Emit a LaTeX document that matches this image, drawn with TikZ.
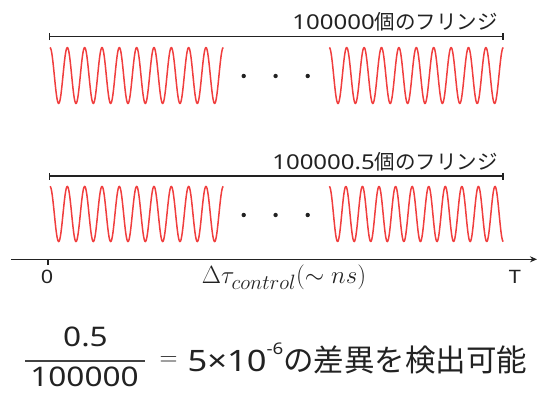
\documentclass[tikz,border=0pt]{standalone}
\usepackage{fontspec}
\setmainfont{Noto Sans CJK JP}
\newfontfamily\lat[FakeStretch=1.17]{Noto Sans}
\usetikzlibrary{arrows.meta}
\definecolor{wavered}{RGB}{240,62,62}
\definecolor{ink}{RGB}{34,34,34}
\begin{document}
\begin{tikzpicture}[x=1pt,y=-1pt,
  wave/.style={draw=wavered, line width=1.5pt, line join=round},
  bracket/.style={draw=ink, line width=1.2pt, {Bar[width=7pt]}-{Bar[width=7pt]}},
  dotmark/.style={circle, fill=ink, inner sep=0pt, minimum size=4.4pt},
  lbl/.style={font=\fontsize{20.5}{20.5}\selectfont, text=ink, inner sep=0pt},
  axlbl/.style={font=\fontsize{18.5}{18.5}\selectfont\lat, text=ink, inner sep=0pt},
  frac/.style={font=\fontsize{27}{27}\selectfont\lat, text=ink, inner sep=0pt},
  bigtxt/.style={font=\fontsize{30.5}{30.5}\selectfont, text=ink, inner sep=0pt}]
\useasboundingbox (0,0) rectangle (537,394);
% ---- top group
\coordinate (b1L) at (49,36.5);
\coordinate (b1R) at (503.5,36.5);
\draw[bracket] (b1L) -- (b1R);
\node[lbl, anchor=base east] (lab1) at (498,29.5) {{\lat 100000}個のフリンジ};
\draw[wave] plot[domain=0:10, samples=301] ({50+17.33*\x},{75.5-28*cos(360*\x)});
\draw[wave] plot[domain=0:10, samples=301] ({329.3+17.4*\x},{75.5-28*cos(360*\x)});
\node[dotmark] (d1) at (243.7,76) {};
\node[dotmark] (d2) at (275.6,76) {};
\node[dotmark] (d3) at (307.7,76) {};
% ---- second group
\coordinate (b2L) at (49,176);
\coordinate (b2R) at (503.5,176);
\draw[bracket] (b2L) -- (b2R);
\node[lbl, anchor=base east] (lab2) at (498,169.5) {{\lat 100000.5}個のフリンジ};
\draw[wave] plot[domain=0:10, samples=301] ({50+17.33*\x},{214-27.6*cos(360*\x)});
\draw[wave] plot[domain=0:10.5, samples=301] ({329.3+16.57*\x},{214-27.6*cos(360*\x)});
\node[dotmark] (d4) at (243.7,215) {};
\node[dotmark] (d5) at (275.6,215) {};
\node[dotmark] (d6) at (307.7,215) {};
% ---- axis
\coordinate (axL) at (11,259.3);
\coordinate (axR) at (537,259.3);
\draw[draw=ink, line width=1.2pt, -{Stealth[length=7pt,width=6pt]}] (axL) -- (axR);
\coordinate (tk0) at (48,259.3);
\coordinate (tk1) at (48,264.5);
\draw[draw=ink, line width=1.1pt] (tk0) -- (tk1);
\node[axlbl] (zero) at (47,277) {0};
\node[axlbl] (tee) at (515,277) {T};
\node[inner sep=0pt, text=ink, font=\fontsize{29.5}{29.5}\selectfont] (xlab) at (284,277) {$\Delta\tau_{control}(\sim ns)$};
% ---- formula
\node[frac, anchor=base] (num) at (85.5,346.2) {0.5};
\node[frac, anchor=base] (den) at (84.5,386.5) {100000};
\coordinate (fl) at (25,361);
\coordinate (fr) at (145,361);
\draw[draw=ink!85, line width=1.3pt] (fl) -- (fr);
\node[inner sep=0pt, text=ink, font=\fontsize{28}{28}\selectfont] (eq) at (168.5,361) {$=$};
\node[bigtxt, anchor=base west] (res) at (187.5,371.5) {{\lat\fontsize{29.5}{29.5}\selectfont 5×10\raisebox{17.5pt}{\fontsize{16}{16}\selectfont -6}}の差異を検出可能};
\end{tikzpicture}
\end{document}
